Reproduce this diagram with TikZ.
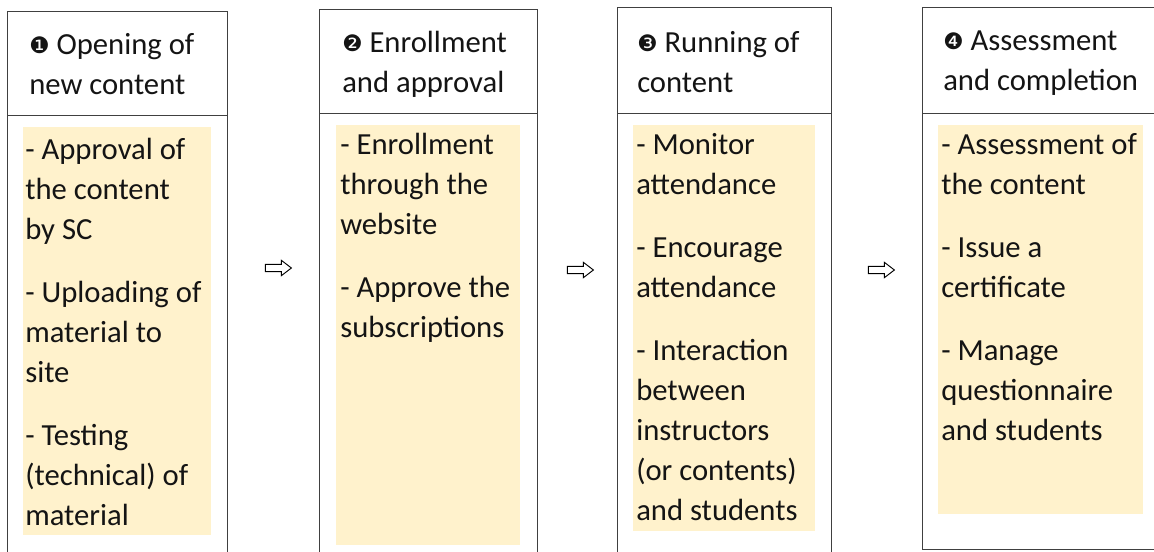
\documentclass[tikz,border=0pt]{standalone}
\usepackage{fontspec}
\setmainfont{Carlito}
\newfontfamily\dingfont{DejaVu Sans}
\usetikzlibrary{shapes.arrows}

\definecolor{notefill}{HTML}{FFF2CC}
\definecolor{framecol}{HTML}{404040}
\definecolor{inkcol}{HTML}{141414}

% circled step number set in front of each stage title
\newcommand{\stepno}[1]{{\dingfont\fontsize{17pt}{17pt}\selectfont\raisebox{1pt}{#1}}}

\begin{document}
\begin{tikzpicture}[x=0.75pt,y=-0.75pt,
  frame/.style={draw=framecol, line width=1.1pt, anchor=north west, inner sep=0pt},
  note/.style={fill=notefill, anchor=north west, inner sep=0pt},
  txt/.style={anchor=north west, inner sep=0pt, align=left, text=inkcol,
    font=\fontsize{23pt}{30pt}\selectfont},
  flow/.style={single arrow, draw=black, fill=white, line width=0.7pt,
    minimum height=19.5pt, inner sep=2.4pt, single arrow head extend=3pt,
    single arrow tip angle=75, anchor=center}
]
\useasboundingbox (0,0) rectangle (1154,552);
\clip (0,0) rectangle (1154,552);

% ---- stage 1 ----
\node[frame, minimum width=165pt, minimum height=78pt] (h1) at (7,11) {};
\node[frame, minimum width=165pt, minimum height=333.75pt] (b1) at (7,115) {};
\node[note, minimum width=141pt, minimum height=306pt] (n1) at (23,127) {};
\node[txt] (t1) at (29,33) {\stepno{❶} Opening of\\new content};
\node[txt] (l1) at (25,138) {- Approval of\\the content\\by SC\\[17.25pt]
  - Uploading of\\material to\\site\\[17.25pt]
  - Testing\\(technical) of\\material};

% ---- stage 2 ----
\node[frame, minimum width=163.5pt, minimum height=78pt] (h2) at (319,9) {};
\node[frame, minimum width=163.5pt, minimum height=335.25pt] (b2) at (319,113) {};
\node[note, minimum width=138pt, minimum height=315pt] (n2) at (336,125) {};
\node[txt] (t2) at (342,31) {\stepno{❷} Enrollment\\and approval};
\node[txt] (l2) at (340,133) {- Enrollment\\through the\\website\\[17.25pt]
  - Approve the\\subscriptions};

% ---- stage 3 ----
\node[frame, minimum width=160.5pt, minimum height=79.5pt] (h3) at (617,7) {};
\node[frame, minimum width=160.5pt, minimum height=335.25pt] (b3) at (617,113) {};
\node[note, minimum width=136.5pt, minimum height=304pt] (n3) at (633,125) {};
\node[txt] (t3) at (637,31) {\stepno{❸} Running of\\content};
\node[txt] (l3) at (636,133) {- Monitor\\attendance\\[17.25pt]
  - Encourage\\attendance\\[17.25pt]
  - Interaction\\between\\instructors\\(or contents)\\and students};

% ---- stage 4 ----
\node[frame, minimum width=177pt, minimum height=79.5pt] (h4) at (922,7) {};
\node[frame, minimum width=177pt, minimum height=327pt] (b4) at (922,113) {};
\node[note, minimum width=153.75pt, minimum height=291.75pt] (n4) at (938,125) {};
\node[txt] (t4) at (943,31) {\stepno{❹} Assessment\\and completion};
\node[txt] (l4) at (941,133) {- Assessment of\\the content\\[17.25pt]
  - Issue a\\certificate\\[17.25pt]
  - Manage\\questionnaire\\and students};

% ---- hollow arrows between the stages ----
\node[flow] (a12) at (276,268) {};
\node[flow] (a23) at (578,270) {};
\node[flow] (a34) at (879,270) {};
\end{tikzpicture}
\end{document}
